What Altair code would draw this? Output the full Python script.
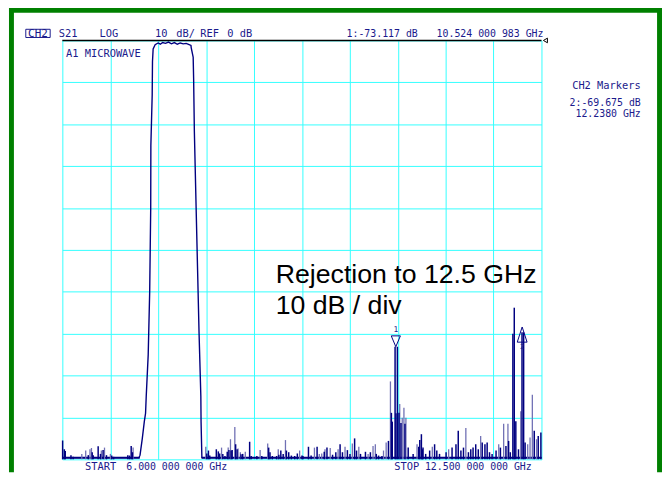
import altair as alt
import pandas as pd

# ---------------- data ----------------
x_grid = [6.0, 6.65, 7.3, 7.95, 8.6, 9.25, 9.9, 10.55, 11.2, 11.85, 12.5]
y_grid = [-100, -90, -80, -70, -60, -50, -40, -30, -20, -10, 0]

# main trace (passband + floor)
trace_f = [6.0, 7.040, 7.054, 7.085, 7.112, 7.129, 7.138, 7.165, 7.185, 7.199, 7.201,
           7.219, 7.223, 7.232, 7.259, 7.299, 7.33, 7.36, 7.40, 7.44, 7.48, 7.52, 7.56,
           7.60, 7.64, 7.68, 7.72, 7.745, 7.748, 7.775, 7.781, 7.791, 7.815, 7.835,
           7.855, 7.879, 7.882, 7.893, 12.5]
trace_db = [-99.6, -99.6, -99.0, -95.0, -91.0, -89.0, -85.0, -75.0, -60.0, -40.0, -25.0,
            -13.0, -5.0, -2.0, -1.0, -0.6, -0.9, -0.5, -0.7, -0.4, -0.8, -0.5, -0.9,
            -0.6, -0.8, -0.7, -1.0, -1.2, -1.7, -4.0, -9.0, -21.7, -40.0, -55.0,
            -70.0, -85.0, -91.0, -99.6, -99.6]

# noise floor segments (thicker dark band of the trace)
floor_f = [6.0, 7.05, 7.89, 12.5]
floor_db = [-99.6, -99.6, -99.6, -99.6]
floor_seg = [1, 1, 2, 2]

# noise spikes, dark trace colour
dark_f = [6.004, 6.027, 6.040, 6.117, 6.147, 6.352, 6.405, 6.419, 6.486, 6.518, 6.553,
          6.599, 6.670, 6.696, 6.888, 6.911, 6.934, 6.951, 7.960, 7.982, 8.000, 8.089,
          8.116, 8.134, 8.177, 8.206, 8.237, 8.260, 8.290, 8.304, 8.351, 8.371, 8.424,
          8.447, 8.541, 8.562, 8.639, 8.706, 8.799, 8.817, 8.849, 8.907, 8.937, 8.964,
          8.996, 9.040, 9.071, 9.107, 9.152, 9.188, 9.251, 9.264, 9.339, 9.375, 9.456,
          9.553, 9.590, 9.666, 9.710, 9.768, 9.800, 9.867, 9.902, 9.965, 9.991, 10.045,
          10.112, 10.179, 10.259, 10.290, 10.336, 10.424, 10.464, 10.476, 10.514, 10.526,
          10.545, 10.567, 10.594, 10.648, 10.692, 10.759, 10.835, 10.849, 10.871, 10.885,
          10.893, 10.929, 10.983, 11.050, 11.080, 11.117, 11.206, 11.287, 11.340, 11.371,
          11.407, 11.442, 11.509, 11.541, 11.572, 11.608, 11.643, 11.696, 11.733, 11.763,
          11.795, 11.830, 11.884, 11.943, 12.018, 12.054, 12.077, 12.112, 12.131, 12.152,
          12.188, 12.236, 12.258, 12.278, 12.402, 12.456, 12.492]
dark_db = [-95.5, -97.6, -98.0, -99.0, -99.4, -99.0, -98.3, -99.0, -96.9, -98.7, -97.8,
           -99.0, -99.1, -99.4, -99.0, -99.1, -96.8, -98.3, -98.6, -97.9, -99.1, -97.6,
           -98.1, -98.6, -98.7, -99.2, -98.2, -97.8, -97.9, -97.8, -96.4, -97.6, -98.8,
           -98.7, -95.8, -99.2, -99.2, -99.2, -97.2, -98.3, -99.2, -99.2, -98.9, -97.9,
           -98.7, -97.9, -98.3, -99.1, -99.2, -98.6, -99.1, -99.2, -97.0, -99.1, -97.0,
           -98.2, -97.2, -98.9, -98.3, -96.4, -98.3, -97.8, -98.7, -95.0, -97.9, -98.7,
           -98.2, -98.3, -98.7, -99.1, -99.2, -95.6, -88.9, -91.0, -73.117, -89.0,
           -73.117, -88.9, -91.3, -91.5, -97.2, -98.7, -97.0, -95.4, -94.0, -97.6,
           -97.2, -98.7, -97.9, -96.4, -97.9, -98.7, -98.3, -97.2, -96.4, -93.2,
           -97.9, -97.2, -98.3, -97.6, -97.2, -96.4, -97.6, -96.0, -96.4, -96.0,
           -98.3, -98.7, -97.9, -97.2, -96.8, -95.6, -98.3, -70.0, -63.8, -90.9,
           -97.6, -69.675, -69.675, -96.0, -93.2, -94.4, -93.6]

# noise spikes, light trace colour
light_f = [6.264, 6.317, 6.375, 6.395, 6.529, 6.572, 6.652, 6.960, 7.946, 8.160, 8.250,
           8.281, 8.340, 8.384, 8.415, 8.482, 8.683, 8.786, 8.929, 9.027, 9.219, 9.420,
           9.486, 9.519, 9.563, 9.634, 9.741, 9.835, 9.934, 10.022, 10.148, 10.215, 10.246,
           10.357, 10.393, 10.451, 10.577, 10.611, 10.634, 10.661, 10.812, 11.019, 11.241,
           11.474, 11.675, 11.920, 11.987, 12.045, 12.219, 12.313, 12.345, 12.376, 12.433]
light_db = [-98.7, -97.9, -97.6, -97.3, -97.9, -97.2, -98.7, -97.2, -97.0, -97.2, -97.2,
            -95.2, -92.3, -97.4, -98.3, -98.2, -97.8, -96.2, -97.6, -95.4, -97.9, -97.2,
            -98.7, -98.6, -97.6, -97.3, -97.6, -97.0, -96.2, -97.0, -98.7, -96.8, -96.4,
            -97.9, -96.0, -81.4, -86.8, -90.1, -87.7, -90.1, -96.4, -97.0, -97.6,
            -92.5, -94.4, -96.4, -91.5, -91.5, -88.5, -96.4, -94.8, -84.6, -95.2]

marker_id = [1, 2]
marker_f = [10.524, 12.238]
marker_db = [-73.117, -69.675]

# ---------------- styling ----------------
NAVY = "#000080"
LIGHT = "#7070B4"
TXT = "#1A1A8C"
CYAN = "#33FFFF"
GREEN = "#008000"
MONO = "DejaVu Sans Mono"

W, H = 485, 424

xs = alt.Scale(domain=[6.0, 12.5], nice=False, zero=False)
ys = alt.Scale(domain=[-100, 0], nice=False, zero=False)
xa = alt.Axis(values=x_grid, grid=True, gridColor=CYAN, gridWidth=1, gridOpacity=1,
              domain=False, ticks=False, labels=False, title=None)
ya = alt.Axis(values=y_grid, grid=True, gridColor=CYAN, gridWidth=1, gridOpacity=1,
              domain=False, ticks=False, labels=False, title=None)
X = alt.X("f:Q", scale=xs, axis=xa)
Y = alt.Y("db:Q", scale=ys, axis=ya)

trace_df = pd.DataFrame({"f": trace_f, "db": trace_db})
floor_df = pd.DataFrame({"f": floor_f, "db": floor_db, "seg": floor_seg})
dark_df = pd.DataFrame({"f": dark_f, "db": dark_db})
light_df = pd.DataFrame({"f": light_f, "db": light_db})
mk_df = pd.DataFrame({"id": marker_id, "f": marker_f, "db": marker_db})
one = pd.DataFrame({"a": [0]})

layers = []

# green screen frame
for (x1, x2, y1, y2) in [(-54, -49, -33, 437), (-54, 607, -33, -28), (602, 607, -33, 437)]:
    layers.append(alt.Chart(one).mark_rect(color=GREEN).encode(
        x=alt.value(x1), x2=alt.value(x2), y=alt.value(y1), y2=alt.value(y2)))

# grid + trace
layers.append(alt.Chart(trace_df).mark_line(color=NAVY, strokeWidth=1.4).encode(x=X, y=Y))
layers.append(alt.Chart(floor_df).mark_line(color=NAVY, strokeWidth=2).encode(
    x=X, y=Y, detail="seg:N"))
layers.append(alt.Chart(light_df).mark_rule(color=LIGHT, strokeWidth=1.3).encode(
    x=X, y=Y, y2=alt.datum(-100)))
layers.append(alt.Chart(dark_df).mark_rule(color=NAVY, strokeWidth=1.5).encode(
    x=X, y=Y, y2=alt.datum(-100)))

# top reference line and ref indicator
layers.append(alt.Chart(one).mark_rule(color="black", strokeWidth=1.5).encode(
    x=alt.value(0), x2=alt.value(W), y=alt.value(0)))
layers.append(alt.Chart(one).mark_point(shape="triangle-left", size=22, filled=False,
                                        color="black", strokeWidth=1, opacity=1).encode(
    x=alt.value(489), y=alt.value(0)))

# markers
down_path = "M-0.8,-1.9 L0.8,-1.9 L0,0 Z"
up_path = "M0,-0.93 L0.86,1.72 L-0.86,1.72 Z"
layers.append(alt.Chart(mk_df).transform_filter("datum.id == 1").mark_point(
    shape=down_path, size=134, filled=False, color=NAVY, strokeWidth=1, opacity=1).encode(x=X, y=Y))
layers.append(alt.Chart(mk_df).transform_filter("datum.id == 2").mark_point(
    shape=up_path, size=134, filled=False, color=NAVY, strokeWidth=1, opacity=1).encode(x=X, y=Y))
layers.append(alt.Chart(mk_df).transform_filter("datum.id == 1").mark_text(
    font=MONO, fontSize=8, color=TXT, baseline="alphabetic", dy=-15).encode(
    x=X, y=Y, text=alt.Text("id:N")))
layers.append(alt.Chart(mk_df).transform_filter("datum.id == 2").mark_text(
    font=MONO, fontSize=7, color=TXT, baseline="alphabetic", dy=17).encode(
    x=X, y=Y, text=alt.Text("id:N")))

# CH2 box
layers.append(alt.Chart(one).mark_rect(fill=None, stroke=TXT, strokeWidth=1).encode(
    x=alt.value(-37), x2=alt.value(-12.3), y=alt.value(-11.3), y2=alt.value(-3)))

def txt(s, x, y, align="left", size=10.5, font=MONO, color=TXT):
    return alt.Chart(one).mark_text(font=font, fontSize=size, color=color, align=align,
                                    baseline="alphabetic").encode(
        x=alt.value(x), y=alt.value(y), text=alt.value(s))

layers += [
    txt("CH2", -24.7, -4, align="center", size=11),
    txt("S21", -3.7, -4),
    txt("LOG", 37.7, -4),
    txt("10", 93.7, -4),
    txt("dB/", 115.3, -4),
    txt("REF", 139.7, -4),
    txt("0", 167, -4),
    txt("dB", 179.7, -4),
    txt("1:-73.117 dB", 287.7, -4, size=10),
    txt("10.524 000 983 GHz", 487, -4, align="right", size=10),
    txt("A1 MICROWAVE", 3.7, 17),
    txt("CH2 Markers", 585.5, 49.3, align="right"),
    txt("2:-69.675 dB", 585.5, 66, align="right", size=10),
    txt("12.2380 GHz", 585.5, 77, align="right", size=10),
    txt("START", 23, 434.5),
    txt("6.000 000 000 GHz", 64.7, 434.5, size=10),
    txt("STOP", 336, 434.5),
    txt("12.500 000 000 GHz", 367, 434.5, size=10),
    txt("Rejection to 12.5 GHz", 216, 246, size=27, font="Liberation Sans", color="black"),
    txt("10 dB / div", 216, 277, size=27, font="Liberation Sans", color="black"),
]

chart = alt.layer(*layers).properties(
    width=W, height=H,
    padding={"left": 55, "top": 30, "right": 122, "bottom": 13},
    autosize=alt.AutoSizeParams(type="none"),
    background="white",
).configure_view(stroke=None)

chart.save("out.html", embed_options={"renderer": "svg", "actions": False})
